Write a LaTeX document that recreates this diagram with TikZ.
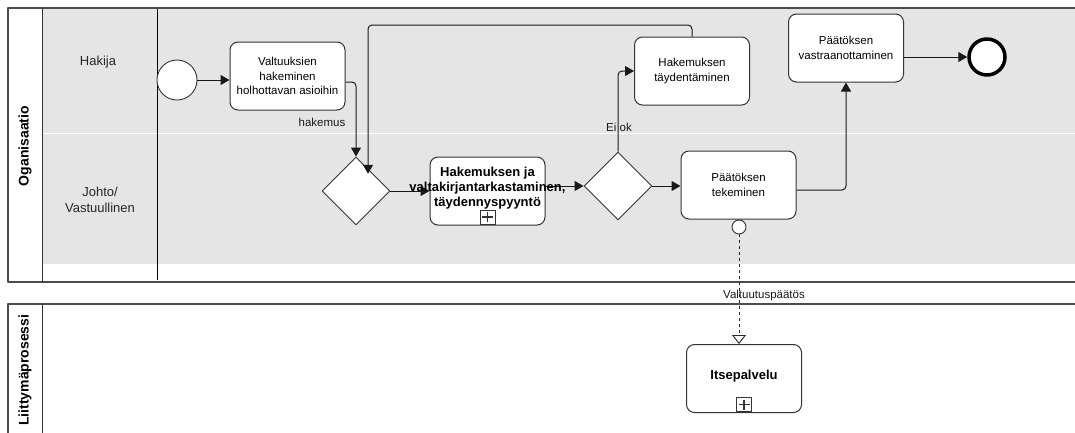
\documentclass[tikz,border=0pt]{standalone}
\usepackage{fontspec}
\setmainfont{Liberation Sans}
\usepackage{tikz}
\usetikzlibrary{arrows.meta,shapes.geometric,positioning}

\begin{document}
\begin{tikzpicture}[x=1pt,y=-1pt,
    line join=round,
    task/.style={draw=black!80, line width=1pt, fill=white, rounded corners=8pt, minimum width=115pt,
      minimum height=68pt, align=center, font=\fontsize{11.5}{14.5}\selectfont},
    gate/.style={draw=black!80, line width=0.9pt, fill=white, diamond, minimum width=68pt,
      minimum height=68pt, inner sep=0pt},
    startevent/.style={draw=black!80, line width=0.9pt, fill=white, circle, minimum size=40pt, inner sep=0pt},
    endevent/.style={draw=black, fill=white, circle, line width=3.5pt, minimum size=36pt, inner sep=0pt},
    marker/.style={draw=black!80, line width=0.9pt, fill=white, minimum width=15pt, minimum height=14pt, inner sep=0pt,
      path picture={\draw[line width=1.4pt]
        ([yshift=-2pt]path picture bounding box.north) -- ([yshift=2pt]path picture bounding box.south)
        ([xshift=2pt]path picture bounding box.west) -- ([xshift=-2pt]path picture bounding box.east);}},
    flow/.style={draw=black!90, line width=1pt, -{Triangle[length=9pt,width=10pt]}, rounded corners=4pt},
    msg/.style={draw=black!85, line width=0.9pt, dashed, -{Triangle[open,length=9pt,width=14pt]}},
    lbl/.style={font=\fontsize{11.5}{14}\selectfont, text=black!90},
    lane/.style={font=\fontsize{13}{16}\selectfont, text=black!85, align=center},
    pool/.style={font=\fontsize{14}{16}\selectfont\bfseries, rotate=90}]

    \useasboundingbox (0,0) rectangle (1075,432);
    \clip (0,0) rectangle (1075,432);

    % Pools and lanes
    \fill[white] (0,0) rectangle (1075,432);
    \fill[gray!20] (42,9) rectangle (1080,264);
    \draw[white, line width=1pt] (42,133) -- (1080,133);
    \draw[black!70, line width=1.4pt] (1080,8) -- (8,8) -- (8,282) -- (1080,282);
    \draw[black!80, line width=1pt] (42,8) -- (42,282);
    \draw[black, line width=1pt] (157,9) -- (157,280);
    \draw[black!70, line width=1.4pt] (1080,304) -- (8,304) -- (8,440);
    \draw[black!80, line width=1pt] (42,304) -- (42,440);

    \node[pool] (organisaatio) at (25,146) {Oganisaatio};
    \node[pool, anchor=east] (liittyma) at (25,311) {Liittymäprosessi};
    \node[lane] (hakija) at (98,62) {Hakija};
    \node[lane] (johto) at (100,200) {Johto/\\Vastuullinen};

    % Flow objects
    \node[startevent] (start) at (177,80) {};
    \node[task] (hakeminen) at (287.5,76) {Valtuuksien\\hakeminen\\holhottavan asioihin};
    \node[gate] (tarkistus) at (356,191) {};
    \node[task] (tarkastus) at (487.5,191) {};
    \node[marker, above=1pt of tarkastus.south] (tarkastusmerkki) {};
    \node[gate] (ehto) at (618,186) {};
    \node[task] (taydentaminen) at (692,71) {Hakemuksen\\täydentäminen};
    \node[task] (tekeminen) at (738.5,185) {Päätöksen\\tekeminen};
    \node[draw=black!80, line width=0.9pt, fill=white, circle, minimum size=14pt, inner sep=0pt] (raja) at (739,227) {};
    \node[task] (vastaanotto) at (846,48) {Päätöksen\\vastraanottaminen};
    \node[endevent] (loppu) at (987,57) {};
    \node[task] (itsepalvelu) at (744,378.5) {};
    \node[marker, above=1pt of itsepalvelu.south] (itsemerkki) {};
    \node[font=\fontsize{13}{15}\selectfont\bfseries] (itseteksti) at (744,376) {Itsepalvelu};

    % Sequence flows
    \coordinate (paluu) at (368,25);
    \draw[flow] (start.east) -- (start.east -| hakeminen.west);
    \draw[flow] ([yshift=-6pt]hakeminen.east) -| (tarkistus.north);
    \node[lbl] (hakemus) at (322,122) {hakemus};
    \draw[flow] (taydentaminen.north) |- (paluu) -- (paluu |- tarkistus.north east);
    \draw[flow] (tarkistus.east) -- (tarkastus.west);
    \draw[flow] (tarkastus.east |- ehto.west) -- (ehto.west);
    \draw[flow] (ehto.east) -- (tekeminen.west |- ehto.east);
    \draw[flow] (ehto.north) |- (taydentaminen.west);
    \node[lbl] (eiok) at (619,127) {Ei ok};
    \draw[flow] ([yshift=-5pt]tekeminen.east) -| (vastaanotto.south);
    \draw[flow] (vastaanotto.east |- loppu.west) -- (loppu.west);

    % Task text over the flows
    \node[font=\fontsize{13}{15}\selectfont\bfseries, align=center] (tarkastusteksti) at (487.5,188)
      {Hakemuksen ja\\valtakirjantarkastaminen,\\täydennyspyyntö};

    % Message flow
    \draw[msg] (raja.south) -- (raja.south |- itsepalvelu.north);
    \node[lbl] (paatos) at (764,296) {Valtuutuspäätös};
\end{tikzpicture}
\end{document}
